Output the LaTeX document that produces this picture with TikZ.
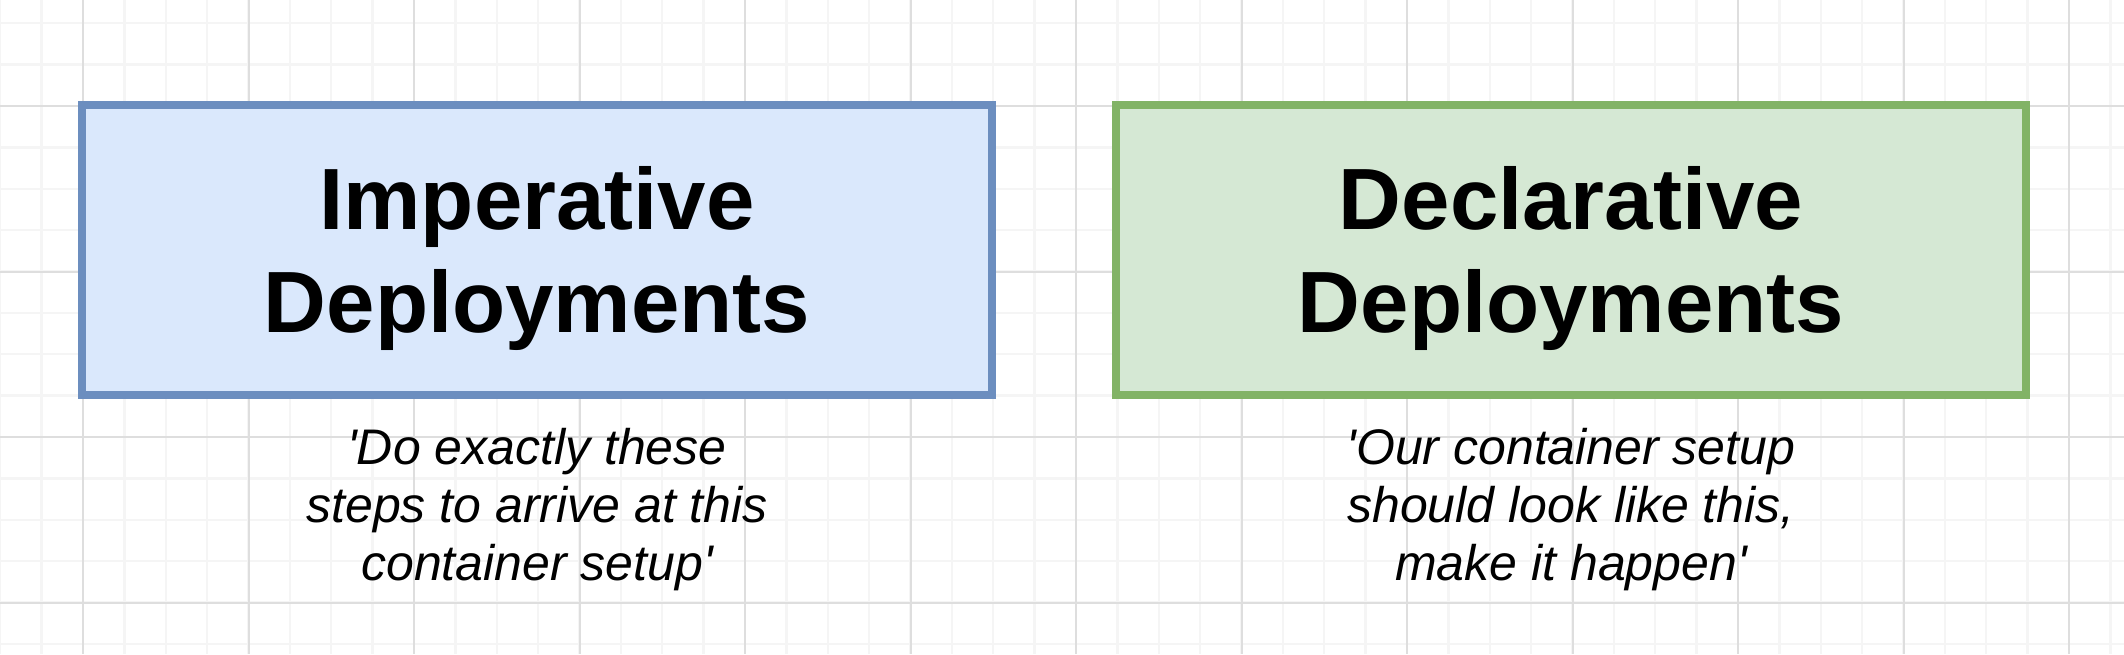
\documentclass[tikz,border=0pt]{standalone}
\usepackage{fontspec}
\setmainfont{Liberation Sans}
\usepackage{xcolor}
\usetikzlibrary{positioning}

\definecolor{impfill}{HTML}{DAE8FC}
\definecolor{impline}{HTML}{6C8EBF}
\definecolor{decfill}{HTML}{D5E8D4}
\definecolor{decline}{HTML}{82B366}

\begin{document}
\begin{tikzpicture}[
            x = 0.5pt, y = -0.5pt, % one unit is one pixel of the page
            node distance = 14.5pt, % gap between box and quote
            semithick % line style
        ]

        \tikzstyle{minor}=[draw = black!4, line width = 1.2pt]
        \tikzstyle{major}=[draw = black!13, line width = 1pt]
        \tikzstyle{deploy}=[
            line width = 4pt,
            minimum width = 455pt,
            minimum height = 145pt,
            align = center,
            text depth = 1pt, % sit the title a bit lower
            font = \bfseries\fontsize{43.5}{51.5}\selectfont
        ]
        \tikzstyle{quote}=[
            inner sep = 0pt,
            align = center,
            font = \itshape\fontsize{25}{29}\selectfont
        ]

        % page and grid
        \useasboundingbox (0,0) rectangle (2124,654);
        \fill[white] (0,0) rectangle (2124,654);
        \foreach \i in {0,...,51} \draw[minor] ({0.25+41.375*\i},0) -- ({0.25+41.375*\i},654);
        \foreach \j in {0,...,15} \draw[minor] (0,{23.25+41.375*\j}) -- (2124,{23.25+41.375*\j});
        \foreach \i in {0,...,12} \draw[major] ({83+165.5*\i},0) -- ({83+165.5*\i},654);
        \foreach \j in {0,...,3} \draw[major] (0,{106+165.5*\j}) -- (2124,{106+165.5*\j});

        \node[deploy, draw = impline, fill = impfill] (imp) at (537,250) {Imperative\\Deployments};
        \node[deploy, draw = decline, fill = decfill] (dec) [right = 58pt of imp] {Declarative\\Deployments};

        \node[quote] (impq) [below = of imp] {\textquotesingle Do exactly these\\steps to arrive at this\\container setup\textquotesingle};
        \node[quote] (decq) [below = of dec] {\textquotesingle Our container setup\\should look like this,\\make it happen\textquotesingle};
    \end{tikzpicture}
\end{document}
